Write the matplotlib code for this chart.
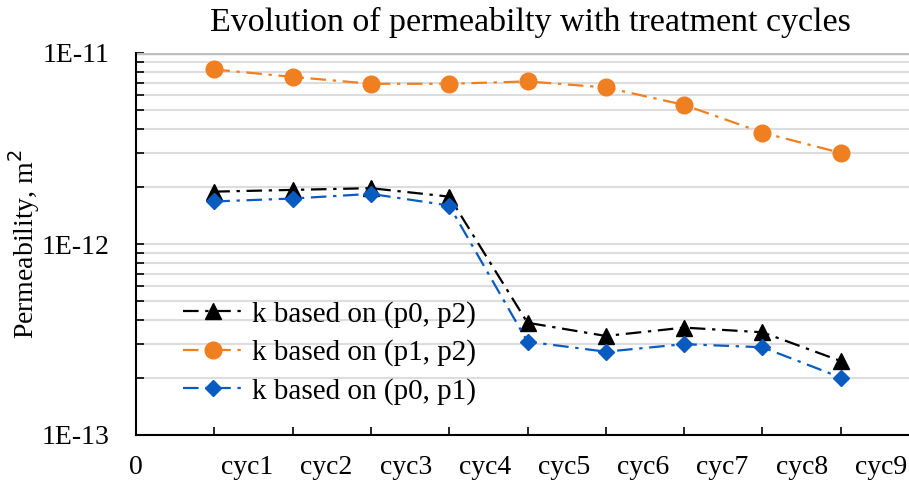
import numpy as np
import matplotlib
matplotlib.use('Agg')
import matplotlib.pyplot as plt
from matplotlib.ticker import LogLocator, FuncFormatter, NullFormatter

plt.rcParams['font.family'] = ['Liberation Serif', 'DejaVu Serif']

# 处理循环序号与渗透率数据 (m^2)
cycles = [1, 2, 3, 4, 5, 6, 7, 8, 9]
cycle_labels = ['0', 'cyc1', 'cyc2', 'cyc3', 'cyc4', 'cyc5', 'cyc6', 'cyc7', 'cyc8', 'cyc9']
k_p0_p2 = [1.88e-12, 1.92e-12, 1.96e-12, 1.77e-12, 3.87e-13, 3.30e-13, 3.65e-13, 3.45e-13, 2.44e-13]
k_p1_p2 = [8.2e-12, 7.5e-12, 6.9e-12, 6.9e-12, 7.1e-12, 6.6e-12, 5.35e-12, 3.83e-12, 3.0e-12]
k_p0_p1 = [1.67e-12, 1.73e-12, 1.83e-12, 1.59e-12, 3.08e-13, 2.73e-13, 2.99e-13, 2.88e-13, 2.0e-13]

fig = plt.figure(figsize=(9.09, 4.82), dpi=100)
# 坐标区右端超出画布，x 轴 0~10
ax = fig.add_axes([136 / 909, 1 - 435 / 482, 783 / 909, 382 / 482])

dash = (0, (7, 3, 1.5, 3))
ax.plot(cycles, k_p0_p2, color='black', linestyle=dash, lw=1.6,
        marker='^', markersize=11, label='k based on (p0, p2)', zorder=4)
ax.plot(cycles, k_p1_p2, color='#F07F22', linestyle=dash, lw=1.6,
        marker='o', markersize=12, label='k based on (p1, p2)', zorder=4)
ax.plot(cycles, k_p0_p1, color='#0A5BBF', linestyle=dash, lw=1.6,
        marker='D', markersize=8.5, label='k based on (p0, p1)', zorder=4)

ax.set_yscale('log')
ax.set_ylim(1e-13, 1e-11)
ax.set_xlim(0, 10)

ax.yaxis.set_major_locator(LogLocator(base=10, numticks=5))
ax.yaxis.set_minor_locator(LogLocator(base=10, subs=np.arange(2, 10), numticks=20))
ax.yaxis.set_major_formatter(FuncFormatter(lambda v, p: '1E%d' % round(np.log10(v))))
ax.yaxis.set_minor_formatter(NullFormatter())
ax.tick_params(axis='y', which='both', direction='in', length=6, width=1.2,
               labelsize=20, pad=19)

ax.set_xticks(range(0, 11))
ax.set_xticklabels([])
ax.tick_params(axis='x', direction='in', length=6, width=1.2)

# x 轴文字标签（均匀排布，略偏右）
label_x = [0] + [1.42 + (i - 1) * 1.012 for i in range(1, 10)]
for x, s in zip(label_x, cycle_labels):
    ax.text(x, -0.085, s, transform=ax.get_xaxis_transform(), ha='center', va='center',
            fontsize=20)

ax.grid(True, which='both', axis='y', color='#DDDDDD', lw=1.5)
ax.set_axisbelow(True)
for s in ['top', 'right']:
    ax.spines[s].set_visible(False)
ax.spines['left'].set_linewidth(1.5)
ax.spines['bottom'].set_linewidth(1.5)
ax.axhline(1e-11, color='#BFBFBF', lw=2.5, zorder=1)

ax.set_ylabel('Permeability, m$^2$', fontsize=20)
ax.yaxis.set_label_coords(-0.12, 0.5)
fig.text(0.583, 0.954, 'Evolution of permeabilty with treatment cycles',
         ha='center', va='center', fontsize=24.5)

leg = ax.legend(loc='center left', bbox_to_anchor=(0.06, 0.215), frameon=False,
                fontsize=21, handlelength=2.05, borderaxespad=0, borderpad=0,
                labelspacing=0.4, handletextpad=0.3)

fig.savefig('out.png', dpi=100)
